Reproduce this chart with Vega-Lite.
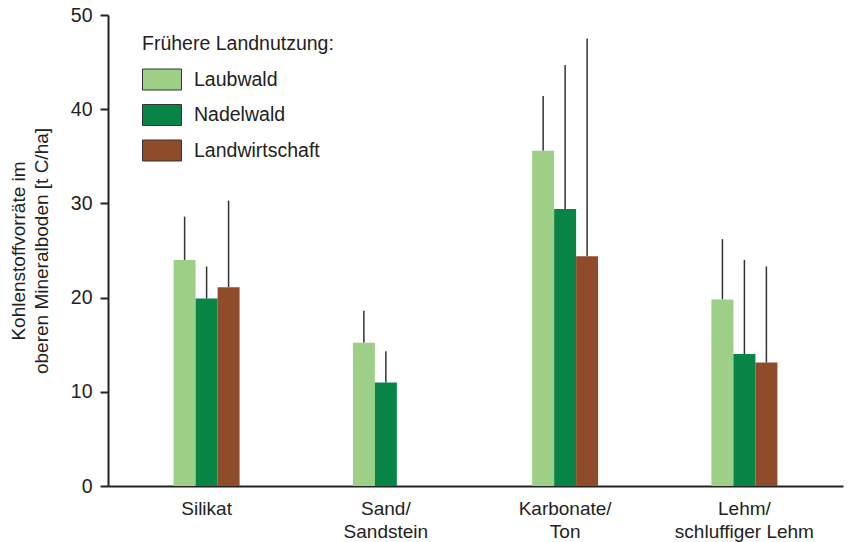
{
  "$schema": "https://vega.github.io/schema/vega-lite/v6.json",
  "width": 735,
  "height": 471,
  "autosize": {"type": "none"},
  "padding": {"left": 108, "top": 15, "right": 6, "bottom": 56},
  "background": "white",
  "config": {
    "view": {"stroke": null},
    "font": "Liberation Sans",
    "axis": {"labelFont": "Liberation Sans", "titleFont": "Liberation Sans", "labelColor": "#222", "titleColor": "#222", "domainColor": "#222", "tickColor": "#222", "grid": false}
  },
  "data": {
    "values": [
      {"group": "Silikat", "landuse": "Laubwald", "value": 24.0, "upper": 28.6},
      {"group": "Silikat", "landuse": "Nadelwald", "value": 19.9, "upper": 23.3},
      {"group": "Silikat", "landuse": "Landwirtschaft", "value": 21.1, "upper": 30.3},
      {"group": "Sand/|Sandstein", "landuse": "Laubwald", "value": 15.2, "upper": 18.6},
      {"group": "Sand/|Sandstein", "landuse": "Nadelwald", "value": 11.0, "upper": 14.3},
      {"group": "Karbonate/|Ton", "landuse": "Laubwald", "value": 35.6, "upper": 41.4},
      {"group": "Karbonate/|Ton", "landuse": "Nadelwald", "value": 29.4, "upper": 44.7},
      {"group": "Karbonate/|Ton", "landuse": "Landwirtschaft", "value": 24.4, "upper": 47.5},
      {"group": "Lehm/|schluffiger Lehm", "landuse": "Laubwald", "value": 19.8, "upper": 26.2},
      {"group": "Lehm/|schluffiger Lehm", "landuse": "Nadelwald", "value": 14.0, "upper": 24.0},
      {"group": "Lehm/|schluffiger Lehm", "landuse": "Landwirtschaft", "value": 13.1, "upper": 23.3}
    ]
  },
  "encoding": {
    "x": {
      "field": "group", "type": "nominal",
      "sort": ["Silikat", "Sand/|Sandstein", "Karbonate/|Ton", "Lehm/|schluffiger Lehm"],
      "scale": {"paddingInner": 0.632, "paddingOuter": 0.366},
      "axis": {"title": null, "labelAngle": 0, "ticks": false, "labelFontSize": 19, "labelPadding": 13, "labelLineHeight": 23, "labelExpr": "split(datum.label, '|')", "domainWidth": 2}
    },
    "xOffset": {
      "field": "landuse", "type": "nominal",
      "sort": ["Laubwald", "Nadelwald", "Landwirtschaft"],
      "scale": {"domain": ["Laubwald", "Nadelwald", "Landwirtschaft"], "paddingInner": 0, "paddingOuter": 0}
    }
  },
  "layer": [
    {
      "mark": {"type": "rule", "color": "#333", "strokeWidth": 1.5},
      "encoding": {
        "y": {"field": "value", "type": "quantitative"},
        "y2": {"field": "upper"}
      }
    },
    {
      "mark": {"type": "bar"},
      "encoding": {
        "y": {
          "field": "value", "type": "quantitative",
          "scale": {"domain": [0, 50], "nice": false},
          "axis": {
            "values": [0, 10, 20, 30, 40, 50],
            "title": ["Kohlenstoffvorräte im", "oberen Mineralboden [t C/ha]"],
            "titleFontSize": 19, "titleFontWeight": "normal", "titleLineHeight": 23, "titlePadding": 19,
            "labelFontSize": 19.5, "labelPadding": 8, "tickSize": 8, "tickWidth": 2, "domainWidth": 2
          }
        },
        "color": {
          "field": "landuse", "type": "nominal",
          "scale": {"domain": ["Laubwald", "Nadelwald", "Landwirtschaft"], "range": ["#9dd086", "#098447", "#8f4c2a"]},
          "legend": {
            "title": "Frühere Landnutzung:",
            "orient": "none", "legendX": 34, "legendY": 20,
            "padding": 0,
            "titleFontSize": 19.5, "titleFontWeight": "normal", "titleColor": "#222", "titleFont": "Liberation Sans", "titlePadding": 14, "titleLimit": 500,
            "labelFontSize": 19.5, "labelColor": "#222", "labelFont": "Liberation Sans", "labelOffset": 30, "labelLimit": 400,
            "symbolType": "M-1,-1H2.714V1H-1Z", "symbolSize": 441, "symbolStrokeColor": "#333", "symbolStrokeWidth": 1, "symbolOpacity": 1,
            "rowPadding": 9.5
          }
        }
      }
    }
  ]
}
